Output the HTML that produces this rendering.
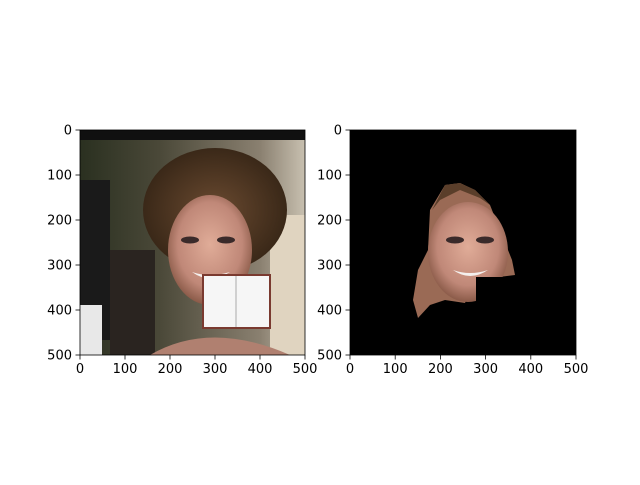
<!DOCTYPE html>
<html><head><meta charset="utf-8"><style>
body{margin:0;background:#fff;}
svg text{font-family:"DejaVu Sans","Liberation Sans",sans-serif;font-size:13px;fill:#000;}
</style></head><body>
<svg width="640" height="480" viewBox="0 0 640 480">
<defs>
<radialGradient id="face" cx="50%" cy="45%" r="55%"><stop offset="0" stop-color="#e0ac98"/><stop offset="0.7" stop-color="#c08878"/><stop offset="1" stop-color="#8a5a48"/></radialGradient>
<radialGradient id="hair" cx="50%" cy="50%" r="50%"><stop offset="0" stop-color="#6a4a30"/><stop offset="1" stop-color="#3a2818"/></radialGradient>
<linearGradient id="bg" x1="0" y1="0" x2="1" y2="0"><stop offset="0" stop-color="#2a3020"/><stop offset="0.35" stop-color="#4a4838"/><stop offset="0.8" stop-color="#8a8070"/><stop offset="1" stop-color="#c8c0b0"/></linearGradient>
<clipPath id="clipL"><rect x="80" y="130" width="225" height="225"/></clipPath>
</defs>
<g id="left">
<g clip-path="url(#clipL)">
<rect x="80" y="130" width="225" height="225" fill="url(#bg)"/>
<rect x="80" y="130" width="225" height="10" fill="#101010"/>
<rect x="270" y="215" width="35" height="140" fill="#e0d4c0"/>
<rect x="80" y="180" width="30" height="160" fill="#1a1a1a"/>
<rect x="80" y="305" width="22" height="50" fill="#e8e8e8"/>
<rect x="110" y="250" width="45" height="105" fill="#2a2420"/>
<ellipse cx="215" cy="210" rx="72" ry="62" fill="url(#hair)"/>
<ellipse cx="210" cy="250" rx="42" ry="55" fill="url(#face)"/>
<path d="M150 355 Q210 320 290 355 Z" fill="#b08070"/>
<ellipse cx="190" cy="240" rx="9" ry="3.5" fill="#3a2a2a"/>
<ellipse cx="226" cy="240" rx="9" ry="3.5" fill="#3a2a2a"/>
<path d="M192 272 Q210 285 230 272 Q210 278 192 272Z" fill="#f4f0ee"/>
<rect x="203" y="275" width="67" height="53" fill="#f6f6f6" stroke="#7a3a30" stroke-width="2"/>
<line x1="236" y1="276" x2="236" y2="327" stroke="#aaa"/>
</g>
<rect x="80" y="130" width="225" height="225" fill="none" stroke="#000" stroke-width="0.8"/>
</g>
<g id="right">
<rect x="350" y="130" width="226" height="225" fill="#000"/>
<path d="M445 185 L430 210 L428 250 L418 270 L413 300 L418 318 L430 305 L445 300 L465 303 L475 280 L515 275 L512 260 L500 230 L490 205 L475 190 L460 183 Z" fill="#9a6a55"/>
<path d="M445 185 L432 210 L440 200 L460 190 L480 198 L490 205 L475 190 L460 183 Z" fill="#5a3e2a"/>
<ellipse cx="468" cy="252" rx="40" ry="50" fill="url(#face)"/>
<ellipse cx="455" cy="240" rx="9" ry="3.5" fill="#3a2a2a"/>
<ellipse cx="485" cy="240" rx="9" ry="3.5" fill="#3a2a2a"/>
<path d="M453 270 Q470 282 488 270 Q470 276 453 270Z" fill="#f4f0ee"/>
<rect x="476" y="277" width="50" height="35" fill="#000"/>
<rect x="350" y="130" width="226" height="225" fill="none" stroke="#000" stroke-width="0.8"/>
</g>
<g id="ticks"></g>
</svg>
<script>
const xTicks=[0,100,200,300,400,500];
const yTicks=[0,100,200,300,400,500];
const axesList=[{x0:80,w:225},{x0:350,w:226}];
const y0=130,h=225;
const g=document.getElementById('ticks');
const NS='http://www.w3.org/2000/svg';
function mk(tag,attrs,txt){const e=document.createElementNS(NS,tag);for(const k in attrs)e.setAttribute(k,attrs[k]);if(txt!==undefined)e.textContent=txt;g.appendChild(e);return e;}
axesList.forEach((a,ai)=>{
 const sx=v=>a.x0+v/500*a.w, sy=v=>y0+v/500*h;
 xTicks.forEach(v=>{
  mk('line',{x1:sx(v),x2:sx(v),y1:y0+h,y2:y0+h+4.5,stroke:'#000','stroke-width':0.8});
  const t=mk('text',{x:sx(v),y:y0+h+18,'text-anchor':'middle'},String(v));
  
  
 });
 yTicks.forEach(v=>{
  mk('line',{x1:a.x0-4.5,x2:a.x0,y1:sy(v),y2:sy(v),stroke:'#000','stroke-width':0.8});
  const t=mk('text',{x:a.x0-8,y:sy(v)+4.5,'text-anchor':'end'},String(v));
  
  
 });
});
</script>
</body></html>
